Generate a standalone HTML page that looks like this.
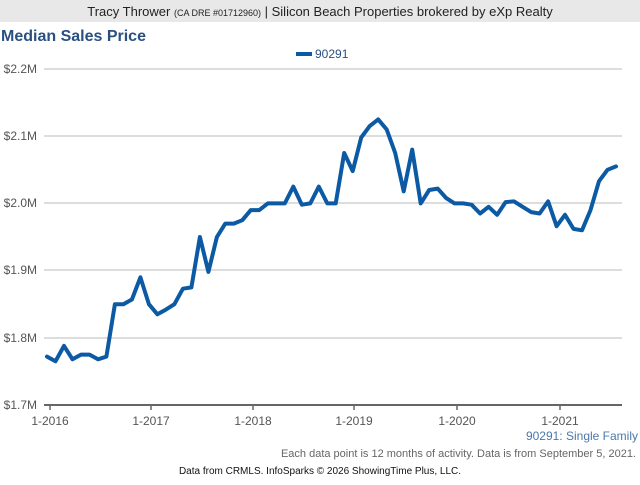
<!DOCTYPE html>
<html><head><meta charset="utf-8"><style>
body{margin:0;width:640px;height:480px;background:#fff;font-family:"Liberation Sans",sans-serif;overflow:hidden}
</style></head><body>
<svg width="640" height="480" xmlns="http://www.w3.org/2000/svg" font-family="Liberation Sans, sans-serif">
<rect x="0" y="0" width="640" height="22" fill="#e8e8e8"/>
<text x="320" y="16" text-anchor="middle" font-size="13" fill="#222">Tracy Thrower <tspan font-size="9">(CA DRE #01712960)</tspan> | Silicon Beach Properties brokered by eXp Realty</text>
<text x="1" y="41" font-size="16" font-weight="bold" fill="#2a5080">Median Sales Price</text>
<rect x="296" y="52" width="16" height="4" fill="#0b5aa3"/>
<text x="315" y="58" font-size="12" fill="#2a5080">90291</text>
<g stroke="#bbb" stroke-width="1">
<line x1="44" x2="622" y1="69" y2="69"/><line x1="44" x2="622" y1="136" y2="136"/>
<line x1="44" x2="622" y1="203" y2="203"/><line x1="44" x2="622" y1="270" y2="270"/>
<line x1="44" x2="622" y1="338" y2="338"/>
</g>
<line x1="44" x2="622" y1="405" y2="405" stroke="#666" stroke-width="2"/>
<g stroke="#666" stroke-width="1.5">
<line x1="50" x2="50" y1="405" y2="410"/><line x1="151" x2="151" y1="405" y2="410"/>
<line x1="253" x2="253" y1="405" y2="410"/><line x1="354" x2="354" y1="405" y2="410"/>
<line x1="457" x2="457" y1="405" y2="410"/><line x1="560" x2="560" y1="405" y2="410"/>
</g>
<g font-size="12" fill="#555" text-anchor="end">
<text x="37" y="73">$2.2M</text><text x="37" y="140">$2.1M</text><text x="37" y="207">$2.0M</text>
<text x="37" y="274">$1.9M</text><text x="37" y="342">$1.8M</text><text x="37" y="409">$1.7M</text>
</g>
<g font-size="12" fill="#555" text-anchor="middle">
<text x="50" y="425">1-2016</text><text x="151" y="425">1-2017</text><text x="253" y="425">1-2018</text>
<text x="354" y="425">1-2019</text><text x="457" y="425">1-2020</text><text x="560" y="425">1-2021</text>
</g>
<text x="638" y="440" text-anchor="end" font-size="12" fill="#4a78aa">90291: Single Family</text>
<text x="636" y="457" text-anchor="end" font-size="11" fill="#666">Each data point is 12 months of activity. Data is from September 5, 2021.</text>
<text x="320" y="474" text-anchor="middle" font-size="10" fill="#111">Data from CRMLS. InfoSparks © 2026 ShowingTime Plus, LLC.</text>
<polyline id="ln" fill="none" stroke="#0b5aa3" stroke-width="4" stroke-linejoin="round" stroke-linecap="round" points=""/>
</svg>
<script>
var v=[1772,1765,1788,1768,1775,1775,1768,1772,1850,1850,1857,1890,1850,1835,1842,1850,1873,1875,1950,1898,1950,1970,1970,1975,1990,1990,2000,2000,2000,2025,1998,2000,2025,2000,2000,2075,2048,2098,2115,2125,2110,2075,2018,2080,2000,2020,2022,2008,2000,2000,1998,1985,1995,1983,2002,2003,1995,1987,1985,2003,1966,1983,1962,1960,1990,2033,2050,2055];
var p=[];for(var i=0;i<v.length;i++){p.push((47+i*(569/(v.length-1))).toFixed(1)+","+(405-(v[i]-1700)*0.672).toFixed(1));}
document.getElementById("ln").setAttribute("points",p.join(" "));
</script>
</body></html>
